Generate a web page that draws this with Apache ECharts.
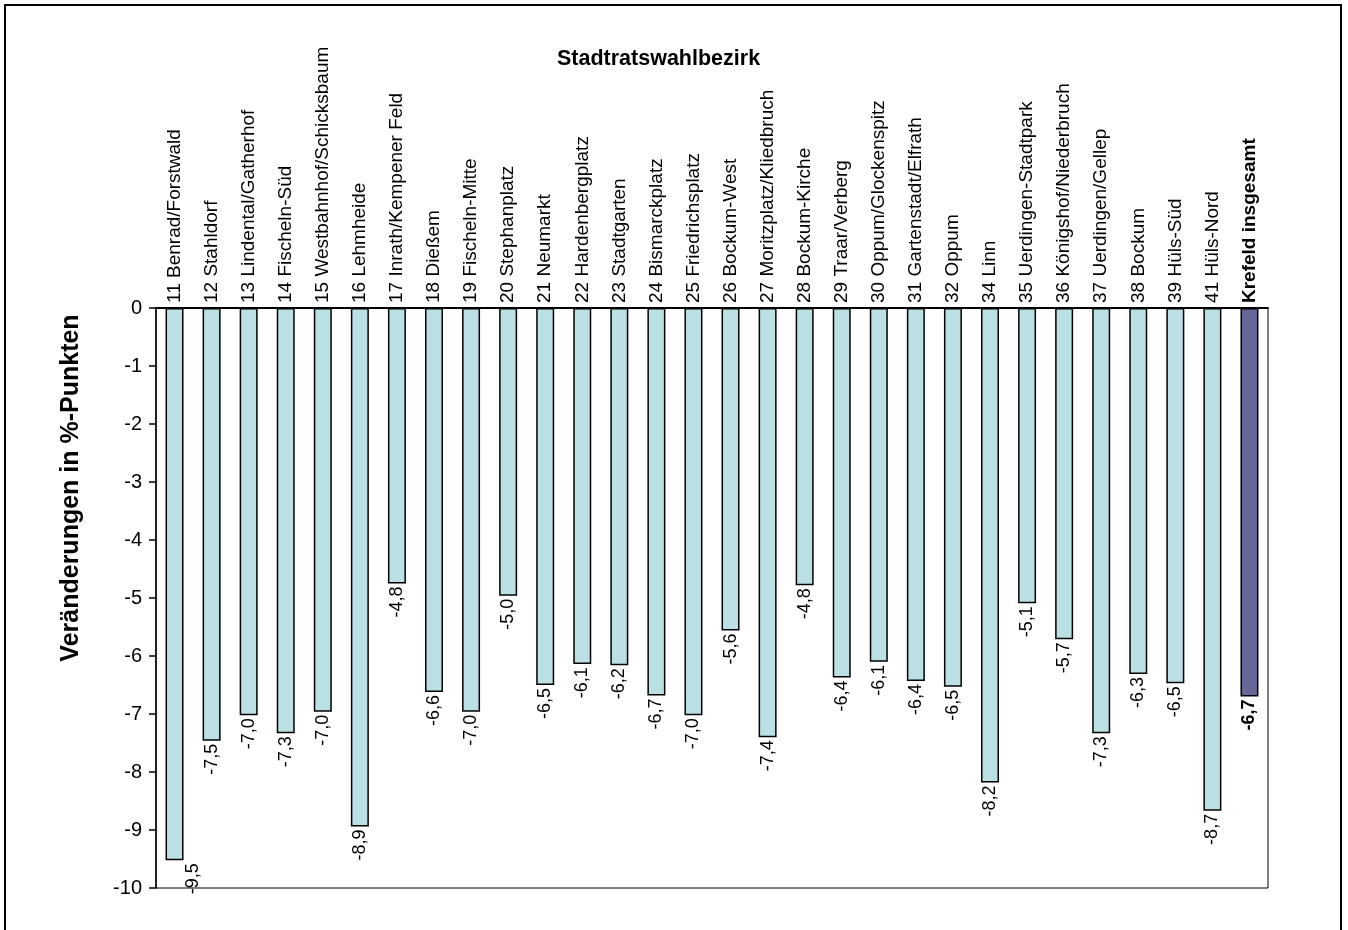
<!DOCTYPE html>
<html>
<head>
<meta charset="utf-8">
<script src="https://cdn.jsdelivr.net/npm/echarts@6/dist/echarts.min.js"></script>
<style>
    html, body { margin: 0; padding: 0; background: #fff; }
    #main { width: 1348px; height: 930px; }
</style>
</head>
<body>
<div id="main"></div>
<script>
"use strict";

// Stadtratswahlbezirke (Kategorien)
const bezirke = [
    '11 Benrad/Forstwald', '12 Stahldorf', '13 Lindental/Gatherhof', '14 Fischeln-Süd',
    '15 Westbahnhof/Schicksbaum', '16 Lehmheide', '17 Inrath/Kempener Feld', '18 Dießem',
    '19 Fischeln-Mitte', '20 Stephanplatz', '21 Neumarkt', '22 Hardenbergplatz',
    '23 Stadtgarten', '24 Bismarckplatz', '25 Friedrichsplatz', '26 Bockum-West',
    '27 Moritzplatz/Kliedbruch', '28 Bockum-Kirche', '29 Traar/Verberg', '30 Oppum/Glockenspitz',
    '31 Gartenstadt/Elfrath', '32 Oppum', '34 Linn', '35 Uerdingen-Stadtpark',
    '36 Königshof/Niederbruch', '37 Uerdingen/Gellep', '38 Bockum', '39 Hüls-Süd',
    '41 Hüls-Nord', 'Krefeld insgesamt'
];

// Veränderungen in %-Punkten
const veraenderungen = [
    -9.52, -7.46, -7.02, -7.33, -6.96, -8.94, -4.75, -6.62,
    -6.96, -4.96, -6.50, -6.14, -6.16, -6.68, -7.02, -5.56,
    -7.40, -4.78, -6.37, -6.10, -6.43, -6.53, -8.18, -5.09,
    -5.71, -7.33, -6.31, -6.47, -8.67, -6.70
];

// Achsenbereich
const yMin = -10;
const yMax = 0;
const yStep = 1;

const gesamtName = 'Krefeld insgesamt';

const chart = echarts.init(document.getElementById('main'));

const fontFamily = '"Liberation Sans", Arial, sans-serif';

const fmt = v => v.toFixed(1).replace('.', ',');

// Datenpunkte, Gesamtwert hervorgehoben
const barData = bezirke.map((name, i) => {
    const item = { value: veraenderungen[i] };
    if (name === gesamtName) {
        item.itemStyle = { color: '#666699' };
        item.label = { fontWeight: 'bold' };
    }
    return item;
});
// erstes Label wie im Original etwas nach rechts versetzt (Offset im gedrehten System)
barData[0].label = { offset: [0, 18] };

const option = {
    backgroundColor: '#fff',
    animation: false,
    graphic: [
        {
            // Rahmen
            type: 'rect',
            shape: { x: 5, y: 5, width: 1336, height: 940 },
            style: { fill: 'none', stroke: '#000', lineWidth: 2 },
            silent: true
        },
        {
            type: 'text',
            left: 557,
            top: 48,
            style: {
                text: 'Stadtratswahlbezirk',
                font: 'bold 21.5px ' + fontFamily,
                fill: '#000'
            }
        },
        {
            type: 'text',
            x: 59,
            y: 488,
            rotation: Math.PI / 2,
            style: {
                text: 'Veränderungen in %-Punkten',
                font: 'bold 25px ' + fontFamily,
                fill: '#000',
                align: 'center',
                verticalAlign: 'top'
            }
        }
    ],
    grid: {
        left: 156,
        right: 80,
        top: 308,
        bottom: 42,
        show: true,
        borderColor: '#000',
        borderWidth: 1,
        backgroundColor: 'transparent'
    },
    xAxis: {
        type: 'category',
        position: 'top',
        data: bezirke,
        axisLine: { onZero: false, lineStyle: { color: '#000', width: 2 } },
        axisTick: { show: false },
        axisLabel: {
            rotate: -90,
            interval: 0,
            margin: 5,
            color: '#000',
            fontSize: 19,
            fontFamily: fontFamily,
            formatter: v => v === gesamtName ? '{b|' + v + '}' : v,
            rich: {
                b: { fontWeight: 'bold', fontSize: 19, fontFamily: fontFamily, color: '#000' }
            }
        }
    },
    yAxis: {
        type: 'value',
        min: yMin,
        max: yMax,
        interval: yStep,
        axisLine: { show: true, lineStyle: { color: '#000', width: 1.5 } },
        axisTick: { show: true, length: 7, lineStyle: { color: '#000', width: 1.5 } },
        splitLine: { show: false },
        axisLabel: {
            margin: 14,
            color: '#000',
            fontSize: 20,
            fontFamily: fontFamily
        }
    },
    series: [{
        type: 'bar',
        data: barData,
        barWidth: 18,
        itemStyle: {
            color: '#BAE0E3',
            borderColor: '#000',
            borderWidth: 1.5
        },
        label: {
            show: true,
            position: 'bottom',
            distance: 3,
            rotate: 90,
            align: 'right',
            verticalAlign: 'middle',
            color: '#000',
            fontSize: 18,
            fontFamily: fontFamily,
            formatter: p => fmt(p.value)
        }
    }]
};

chart.setOption(option);
</script>
</body>
</html>
